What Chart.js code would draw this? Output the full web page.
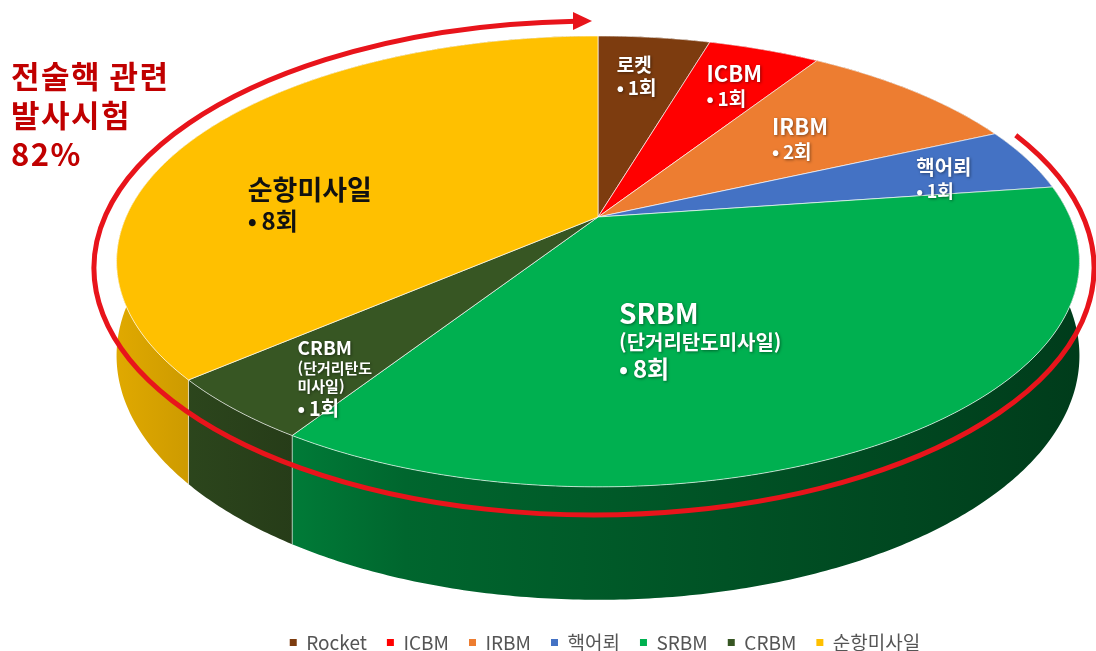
<!DOCTYPE html>
<html lang="ko">
<head>
<meta charset="utf-8">
<title>발사 유형별 횟수</title>
<script src="https://cdn.jsdelivr.net/npm/chart.js@4.4.1/dist/chart.umd.min.js"></script>
<style>
  html, body { margin: 0; padding: 0; background: #fff; overflow: hidden; width: 1096px; height: 651px; }
  #wrap { position: relative; width: 1096px; height: 662px; }
</style>
</head>
<body>
<div id="wrap"><canvas id="pie"></canvas></div>
<script>
(function () {
  "use strict";

  // legend names + launch counts (clockwise from 12 o'clock)
  const categories = ["Rocket", "ICBM", "IRBM", "핵어뢰", "SRBM", "CRBM", "순항미사일"];
  const launches   = [1, 1, 2, 1, 8, 1, 8];
  // names written on the slices themselves
  const sliceNames = ["로켓", "ICBM", "IRBM", "핵어뢰", "SRBM", "CRBM", "순항미사일"];
  const sliceNotes = ["", "", "", "", "(단거리탄도미사일)", "(단거리탄도\n미사일)", ""];
  const countUnit  = "회";
  // slices counted as tactical-nuke related (inside the red arrow)
  const tacticalIdx = [3, 4, 5, 6];
  const titleLines  = ["전술핵 관련", "발사시험"];

  const colors = ["#7d3c0f", "#ff0000", "#ed7d31", "#4472c4", "#00b050", "#375623", "#ffc000"];
  const FONT = '"Noto Sans CJK KR", "Noto Sans", sans-serif';

  // tilted disc: screen centre, radii, perspective and wall height (px)
  const DISC = { cx: 598, cy: 217, rx: 472, ry: 216.7, persp: -0.197, depth: 90.7 };

  // where each slice label sits: angle nudge (deg), radius fraction, font sizes per line
  const labelLayout = [
    { dA: -1,    f: 0.75, sizes: [19, 19],         color: "#fff" },
    { dA: 1,     f: 0.76, sizes: [22, 19],         color: "#fff" },
    { dA: 1,     f: 0.60, sizes: [22, 19],         color: "#fff" },
    { dA: 3,     f: 0.78, sizes: [20, 18],         color: "#fff" },
    { dA: 12,    f: 0.55, sizes: [28, 20, 24],     color: "#fff" },
    { dA: -4,    f: 0.81, sizes: [19, 15, 15, 20], color: "#fff" },
    { dA: -19.3, f: 0.62, sizes: [27, 24],         color: "#111" }
  ];

  function shade(hex, k) {
    const n = parseInt(hex.slice(1), 16);
    const r = Math.round(((n >> 16) & 255) * k);
    const g = Math.round(((n >> 8) & 255) * k);
    const b = Math.round((n & 255) * k);
    return `rgb(${r},${g},${b})`;
  }

  // project a point of the (circular) pie onto the tilted disc
  function proj(a, f) {
    const u = Math.cos(a) * f, v = Math.sin(a) * f;
    const w = 1 + DISC.persp * v;
    return [DISC.cx + DISC.rx * u / w, DISC.cy + DISC.ry * v / w];
  }
  function wallDepth(a) { return DISC.depth / (1 + DISC.persp * Math.sin(a)); }

  function arcPts(s, e) {
    const n = Math.max(2, Math.ceil((e - s) / 0.01));
    const pts = [];
    for (let k = 0; k <= n; k++) {
      const a = s + (e - s) * k / n;
      pts.push({ a, p: proj(a, 1) });
    }
    return pts;
  }

  function drawWalls(ctx, arcs) {
    arcs.forEach((el, i) => {
      const pts = arcPts(el.startAngle, el.endAngle);
      const grad = ctx.createLinearGradient(DISC.cx - DISC.rx * 1.02, 0, DISC.cx + DISC.rx * 1.02, 0);
      grad.addColorStop(0, shade(colors[i], 0.88));
      grad.addColorStop(0.3, shade(colors[i], 0.58));
      grad.addColorStop(1, shade(colors[i], 0.34));
      ctx.beginPath();
      pts.forEach((q, k) => k ? ctx.lineTo(q.p[0], q.p[1]) : ctx.moveTo(q.p[0], q.p[1]));
      for (let k = pts.length - 1; k >= 0; k--) {
        ctx.lineTo(pts[k].p[0], pts[k].p[1] + wallDepth(pts[k].a));
      }
      ctx.closePath();
      ctx.fillStyle = grad;
      ctx.fill();
      // light seam at each visible slice edge
      ctx.strokeStyle = "rgba(255,255,255,0.45)";
      ctx.lineWidth = 1;
      [pts[0], pts[pts.length - 1]].forEach(q => {
        if (Math.sin(q.a) > 0) {
          ctx.beginPath();
          ctx.moveTo(q.p[0], q.p[1]);
          ctx.lineTo(q.p[0], q.p[1] + wallDepth(q.a));
          ctx.stroke();
        }
      });
    });
  }

  function drawTop(ctx, arcs) {
    arcs.forEach((el, i) => {
      const pts = arcPts(el.startAngle, el.endAngle);
      ctx.beginPath();
      ctx.moveTo(DISC.cx, DISC.cy);
      pts.forEach(q => ctx.lineTo(q.p[0], q.p[1]));
      ctx.closePath();
      ctx.fillStyle = colors[i];
      ctx.fill();
      ctx.strokeStyle = "rgba(255,255,255,0.65)";
      ctx.lineWidth = 1;
      ctx.stroke();
    });
  }

  function drawLabels(ctx, arcs) {
    arcs.forEach((el, i) => {
      const lay = labelLayout[i];
      const lines = [sliceNames[i]]
        .concat(sliceNotes[i] ? sliceNotes[i].split("\n") : [])
        .concat("•\u2009" + launches[i] + countUnit);
      const mid = (el.startAngle + el.endAngle) / 2 + lay.dA * Math.PI / 180;
      const [ax, ay] = proj(mid, lay.f);

      let maxW = 0;
      const gaps = [];
      lines.forEach((t, k) => {
        ctx.font = `bold ${lay.sizes[k]}px ${FONT}`;
        maxW = Math.max(maxW, ctx.measureText(t).width);
        if (k) gaps.push((lay.sizes[k - 1] + lay.sizes[k]) / 2 * 1.22);
      });
      const total = gaps.reduce((s, g) => s + g, 0);
      let y = ay - total / 2;
      const x = ax - maxW / 2;

      ctx.save();
      ctx.textAlign = "left";
      ctx.textBaseline = "middle";
      ctx.fillStyle = lay.color;
      if (lay.color === "#fff") {
        ctx.shadowColor = "rgba(0,0,0,0.45)";
        ctx.shadowBlur = 3;
        ctx.shadowOffsetX = 1;
        ctx.shadowOffsetY = 1;
      }
      lines.forEach((t, k) => {
        ctx.font = `bold ${lay.sizes[k]}px ${FONT}`;
        ctx.fillText(t, x, y);
        y += gaps[k] || 0;
      });
      ctx.restore();
    });
  }

  const pie3d = {
    id: "pie3d",
    beforeDatasetsDraw(chart) {
      const ctx = chart.ctx;
      const arcs = chart.getDatasetMeta(0).data;
      ctx.save();
      drawWalls(ctx, arcs);
      drawTop(ctx, arcs);
      drawLabels(ctx, arcs);
      ctx.restore();
      return false; // flat pie replaced by the tilted one
    },
    afterDraw(chart) {
      const ctx = chart.ctx;
      ctx.save();

      // red arrow around the tactical-nuke share
      const ring = { cx: 594, cy: 268, rx: 500, ry: 247 };
      const a0 = -0.567, a1 = Math.PI * 1.5 - 0.036;
      ctx.strokeStyle = "#e8141b";
      ctx.fillStyle = "#e8141b";
      ctx.lineWidth = 5;
      ctx.beginPath();
      ctx.ellipse(ring.cx, ring.cy, ring.rx, ring.ry, 0, a0, a1, false);
      ctx.stroke();
      const tipX = ring.cx - 2, tipY = ring.cy - ring.ry;
      ctx.beginPath();
      ctx.moveTo(tipX, tipY);
      ctx.lineTo(tipX - 19, tipY - 9);
      ctx.lineTo(tipX - 19, tipY + 9);
      ctx.closePath();
      ctx.fill();

      // share title
      const total = launches.reduce((s, v) => s + v, 0);
      const tactical = tacticalIdx.reduce((s, i) => s + launches[i], 0);
      const share = Math.round(tactical / total * 100) + "%";
      ctx.fillStyle = "#c00000";
      ctx.font = `bold 31px ${FONT}`;
      ctx.letterSpacing = "1.5px";
      ctx.textAlign = "left";
      ctx.textBaseline = "middle";
      titleLines.concat(share).forEach((t, k) => ctx.fillText(t, 11, 76 + k * 39));
      ctx.restore();
    }
  };

  new Chart(document.getElementById("pie"), {
    type: "pie",
    data: {
      labels: categories,
      datasets: [{ data: launches, backgroundColor: colors, borderWidth: 0 }]
    },
    options: {
      responsive: true,
      maintainAspectRatio: false,
      animation: false,
      events: [],
      layout: { padding: { left: 114 } },
      plugins: {
        tooltip: { enabled: false },
        legend: {
          position: "bottom",
          labels: {
            usePointStyle: true,
            pointStyle: "rect",
            boxWidth: 7,
            boxHeight: 7,
            padding: 20,
            color: "#555",
            font: { family: FONT, size: 19 }
          }
        }
      }
    },
    plugins: [pie3d]
  });
})();
</script>
</body>
</html>
